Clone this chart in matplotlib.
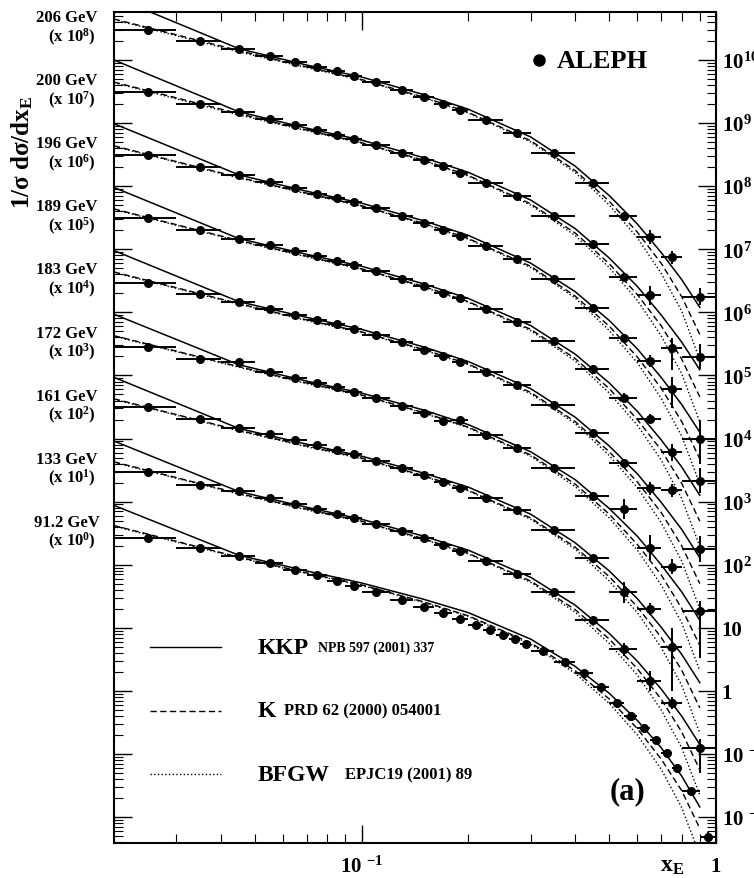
import numpy as np
import matplotlib.pyplot as plt
from matplotlib.ticker import LogLocator, NullFormatter

plt.rcParams['font.family'] = ['Liberation Serif', 'DejaVu Serif']
plt.rcParams['font.weight'] = 'bold'
plt.rcParams['mathtext.fontset'] = 'custom'
plt.rcParams['mathtext.rm'] = 'Liberation Serif:bold'
plt.rcParams['mathtext.it'] = 'Liberation Serif:bold'
plt.rcParams['mathtext.bf'] = 'Liberation Serif:bold'

energies = ['206', '200', '196', '189', '183', '172', '161', '133', '91.2']
powers = [8, 7, 6, 5, 4, 3, 2, 1, 0]

# all y values below are log10(1/sigma dsigma/dx_E), before the 10^n offsets
# LEP2 binning in x_E
lep2_lo = [0.02, 0.03, 0.04, 0.05, 0.06, 0.07, 0.08, 0.09, 0.10, 0.12, 0.14,
           0.16, 0.18, 0.20, 0.25, 0.30, 0.40, 0.50, 0.60, 0.70, 0.80]
lep2_hi = [0.03, 0.04, 0.05, 0.06, 0.07, 0.08, 0.09, 0.10, 0.12, 0.14, 0.16,
           0.18, 0.20, 0.25, 0.30, 0.40, 0.50, 0.60, 0.70, 0.80, 1.00]

logy_206 = [2.48, 2.30, 2.17, 2.07, 1.97, 1.89, 1.82, 1.75, 1.65, 1.53, 1.42, 1.31, 1.21, 1.05, 0.84, 0.52, 0.05, -0.48, -0.80, -1.13, -1.75]
logy_200 = [2.49, 2.31, 2.18, 2.06, 1.97, 1.89, 1.81, 1.75, 1.65, 1.53, 1.42, 1.32, 1.21, 1.05, 0.84, 0.53, 0.08, -0.44, -0.73, -1.56, -1.70]
logy_196 = [2.49, 2.30, 2.18, 2.07, 1.97, 1.88, 1.82, 1.75, 1.65, 1.53, 1.42, 1.31, 1.21, 1.05, 0.85, 0.53, 0.07, -0.41, -0.77, -1.22, -2.00]
logy_189 = [2.49, 2.31, 2.16, 2.07, 1.97, 1.89, 1.82, 1.75, 1.65, 1.53, 1.42, 1.31, 1.22, 1.06, 0.85, 0.54, 0.10, -0.35, -0.69, -1.21, -1.67]
logy_183 = [2.46, 2.29, 2.16, 2.06, 1.96, 1.88, 1.81, 1.74, 1.64, 1.53, 1.41, 1.31, 1.21, 1.05, 0.85, 0.53, 0.08, -0.39, -0.79, -0.82, -1.75]
logy_172 = [2.45, 2.26, 2.22, 2.06, 1.96, 1.88, 1.81, 1.74, 1.64, 1.52, 1.41, 1.28, 1.29, 1.05, 0.85, 0.54, 0.09, -0.12, -0.73, -1.03, -1.73]
logy_161 = [2.50, 2.31, 2.16, 2.07, 1.97, 1.89, 1.82, 1.75, 1.65, 1.53, 1.42, 1.31, 1.21, 1.06, 0.86, 0.55, 0.10, -0.44, -0.70, -1.31, np.nan]
logy_133 = [2.47, 2.27, 2.17, 2.06, 1.96, 1.88, 1.81, 1.74, 1.65, 1.53, 1.42, 1.32, 1.22, 1.06, 0.86, 0.56, 0.12, -0.34, -0.84, -1.19, -1.91]

# vertical error bars (decades down, decades up) of the four highest bins
err_206 = [(0.05, 0.05), (0.11, 0.11), (0.11, 0.11), (0.13, 0.13)]
err_200 = [(0.06, 0.06), (0.15, 0.15), (0.35, 0.15), (0.20, 0.20)]
err_196 = [(0.06, 0.06), (0.10, 0.10), (0.30, 0.20), (0.40, 0.30)]
err_189 = [(0.07, 0.07), (0.08, 0.08), (0.15, 0.12), (0.20, 0.20)]
err_183 = [(0.07, 0.07), (0.10, 0.10), (0.10, 0.10), (0.20, 0.20)]
err_172 = [(0.16, 0.16), (0.20, 0.20), (0.12, 0.12), (0.75, 0.15)]
err_161 = [(0.16, 0.16), (0.10, 0.10), (0.70, 0.30), (0.00, 0.00)]
err_133 = [(0.10, 0.10), (0.16, 0.16), (0.10, 0.10), (0.40, 0.15)]

# Z peak binning
z_lo = [0.02, 0.03, 0.04, 0.05, 0.06, 0.07, 0.08, 0.09, 0.10, 0.12, 0.14, 0.16, 0.18,
        0.20, 0.22, 0.24, 0.26, 0.28, 0.30, 0.35, 0.40, 0.45, 0.50, 0.55, 0.60,
        0.65, 0.70, 0.75, 0.80, 0.90]
z_hi = [0.03, 0.04, 0.05, 0.06, 0.07, 0.08, 0.09, 0.10, 0.12, 0.14, 0.16, 0.18, 0.20,
        0.22, 0.24, 0.26, 0.28, 0.30, 0.35, 0.40, 0.45, 0.50, 0.55, 0.60, 0.65,
        0.70, 0.75, 0.80, 0.90, 1.00]
logy_91 = [2.43, 2.27, 2.14, 2.02, 1.92, 1.83, 1.74, 1.67, 1.56, 1.44, 1.33, 1.23, 1.14,
           1.05, 0.97, 0.89, 0.82, 0.75, 0.63, 0.45, 0.28, 0.06, -0.19, -0.40, -0.59,
           -0.78, -0.99, -1.22, -1.58, -2.31]

# model predictions on a common x grid
xg = [0.02, 0.045, 0.07, 0.1, 0.15, 0.2, 0.3, 0.4, 0.5, 0.6, 0.7, 0.8, 0.9]
kkp_206 = [3.00, 2.18, 1.92, 1.73, 1.45, 1.22, 0.78, 0.32, -0.15, -0.60, -1.05, -1.48, -1.92]
kkp_200 = [3.00, 2.18, 1.92, 1.73, 1.45, 1.22, 0.78, 0.33, -0.14, -0.59, -1.04, -1.47, -1.91]
kkp_196 = [2.99, 2.18, 1.92, 1.73, 1.45, 1.22, 0.78, 0.33, -0.13, -0.58, -1.03, -1.46, -1.90]
kkp_189 = [2.98, 2.17, 1.92, 1.73, 1.45, 1.22, 0.79, 0.34, -0.12, -0.57, -1.02, -1.45, -1.90]
kkp_183 = [2.98, 2.17, 1.92, 1.73, 1.45, 1.22, 0.79, 0.34, -0.12, -0.56, -1.01, -1.44, -1.89]
kkp_172 = [2.97, 2.17, 1.91, 1.72, 1.45, 1.22, 0.79, 0.35, -0.11, -0.55, -1.00, -1.43, -1.88]
kkp_161 = [2.97, 2.16, 1.91, 1.72, 1.45, 1.23, 0.80, 0.35, -0.10, -0.54, -0.99, -1.42, -1.87]
kkp_133 = [2.96, 2.16, 1.91, 1.72, 1.45, 1.23, 0.80, 0.36, -0.09, -0.53, -0.97, -1.40, -1.85]
kkp_91 = [2.94, 2.15, 1.90, 1.71, 1.45, 1.24, 0.82, 0.39, -0.04, -0.47, -0.90, -1.35, -1.84]

k_206 = [2.65, 2.15, 1.89, 1.69, 1.41, 1.17, 0.72, 0.25, -0.24, -0.73, -1.22, -1.75, -2.35]
k_200 = [2.65, 2.15, 1.89, 1.69, 1.41, 1.17, 0.72, 0.26, -0.23, -0.72, -1.21, -1.74, -2.34]
k_196 = [2.64, 2.14, 1.89, 1.69, 1.41, 1.17, 0.73, 0.26, -0.22, -0.71, -1.20, -1.73, -2.32]
k_189 = [2.64, 2.14, 1.89, 1.69, 1.41, 1.17, 0.73, 0.27, -0.21, -0.70, -1.18, -1.71, -2.31]
k_183 = [2.64, 2.14, 1.88, 1.69, 1.41, 1.18, 0.73, 0.27, -0.21, -0.69, -1.17, -1.70, -2.30]
k_172 = [2.63, 2.14, 1.88, 1.69, 1.41, 1.18, 0.74, 0.28, -0.20, -0.68, -1.16, -1.69, -2.28]
k_161 = [2.63, 2.13, 1.88, 1.69, 1.41, 1.18, 0.74, 0.28, -0.19, -0.67, -1.15, -1.67, -2.27]
k_133 = [2.63, 2.13, 1.88, 1.69, 1.41, 1.18, 0.74, 0.29, -0.18, -0.65, -1.13, -1.65, -2.25]
k_91 = [2.62, 2.12, 1.87, 1.68, 1.41, 1.19, 0.76, 0.32, -0.13, -0.60, -1.08, -1.58, -2.18]

bfgw_206 = [2.64, 2.13, 1.88, 1.68, 1.40, 1.16, 0.70, 0.22, -0.30, -0.82, -1.38, -1.98, -2.75]
bfgw_200 = [2.64, 2.13, 1.88, 1.68, 1.40, 1.16, 0.70, 0.22, -0.29, -0.81, -1.37, -1.97, -2.74]
bfgw_196 = [2.63, 2.13, 1.88, 1.68, 1.40, 1.16, 0.71, 0.23, -0.29, -0.80, -1.36, -1.96, -2.72]
bfgw_189 = [2.63, 2.13, 1.88, 1.68, 1.40, 1.16, 0.71, 0.23, -0.28, -0.79, -1.34, -1.95, -2.71]
bfgw_183 = [2.63, 2.13, 1.87, 1.68, 1.40, 1.17, 0.71, 0.24, -0.27, -0.78, -1.33, -1.94, -2.70]
bfgw_172 = [2.62, 2.13, 1.87, 1.68, 1.40, 1.17, 0.72, 0.24, -0.26, -0.77, -1.32, -1.92, -2.68]
bfgw_161 = [2.62, 2.12, 1.87, 1.68, 1.40, 1.17, 0.72, 0.25, -0.26, -0.76, -1.31, -1.91, -2.67]
bfgw_133 = [2.62, 2.12, 1.87, 1.68, 1.40, 1.17, 0.72, 0.25, -0.25, -0.75, -1.30, -1.90, -2.65]
bfgw_91 = [2.61, 2.11, 1.86, 1.67, 1.40, 1.18, 0.74, 0.28, -0.20, -0.70, -1.24, -1.85, -2.60]

data_rows = [logy_206, logy_200, logy_196, logy_189, logy_183, logy_172, logy_161, logy_133, logy_91]
err_rows = [err_206, err_200, err_196, err_189, err_183, err_172, err_161, err_133, None]
kkp_rows = [kkp_206, kkp_200, kkp_196, kkp_189, kkp_183, kkp_172, kkp_161, kkp_133, kkp_91]
k_rows = [k_206, k_200, k_196, k_189, k_183, k_172, k_161, k_133, k_91]
bfgw_rows = [bfgw_206, bfgw_200, bfgw_196, bfgw_189, bfgw_183, bfgw_172, bfgw_161, bfgw_133, bfgw_91]

fig = plt.figure(figsize=(7.54, 8.79), dpi=100)
ax = fig.add_axes([0.1512, 0.0398, 0.7984, 0.9454])
ax.set_xscale('log')
ax.set_yscale('log')
ax.set_xlim(0.02, 1.0)
ax.set_ylim(10**-2.412, 10**10.761)

g = np.array(xg)
for e, p, d, er, c1, c2, c3 in zip(energies, powers, data_rows, err_rows, kkp_rows, k_rows, bfgw_rows):
    s = 10.0**p
    if er is None:
        lo, hi = np.array(z_lo), np.array(z_hi)
        dn = np.zeros(len(lo))
        up = np.zeros(len(lo))
        dn[-1], up[-1] = 0.12, 0.08
    else:
        lo, hi = np.array(lep2_lo), np.array(lep2_hi)
        dn = np.zeros(len(lo))
        up = np.zeros(len(lo))
        dn[-4:] = [a for a, b in er]
        up[-4:] = [b for a, b in er]
    xc = 0.5 * (lo + hi)
    ly = np.array(d, dtype=float) + p
    y = 10.0**ly
    ax.errorbar(xc, y, xerr=[xc - lo, hi - xc], yerr=[y - 10**(ly - dn), 10**(ly + up) - y],
                fmt='o', color='black', ms=5.5, elinewidth=1.4, capsize=0, zorder=3)

    ax.plot(g, 10.0**(np.array(c1) + p), '-', color='black', lw=1.1)
    ax.plot(g, 10.0**(np.array(c2) + p), '--', color='black', lw=1.0, dashes=(4.5, 2.5))
    ax.plot(g, 10.0**(np.array(c3) + p), ':', color='black', lw=1.0)

    # energy and scale factor labels, left of the frame
    ax.text(-0.078, 10**(p + 2.68), e + ' GeV', transform=ax.get_yaxis_transform(),
            ha='center', va='center', fontsize=12, fontweight='bold')
    ax.text(-0.070, 10**(p + 2.38), r'(x 10$^{%d}$)' % p, transform=ax.get_yaxis_transform(),
            ha='center', va='center', fontsize=12, fontweight='bold')

# frame and ticks
ax.tick_params(which='both', direction='in', top=True, right=True, left=True, bottom=True,
               labelleft=False, labelright=True, labelbottom=True)
ax.tick_params(which='major', length=13, width=1.0)
ax.tick_params(which='minor', length=6.5, width=0.8)
for sp in ax.spines.values():
    sp.set_linewidth(1.5)

ax.yaxis.set_minor_locator(LogLocator(base=10, subs=np.arange(2, 10), numticks=100))
ax.yaxis.set_minor_formatter(NullFormatter())
ax.xaxis.set_minor_locator(LogLocator(base=10, subs=np.arange(2, 10), numticks=100))
ax.xaxis.set_minor_formatter(NullFormatter())

ylabels = []
for k in range(-2, 11):
    if k == 0:
        ylabels.append('1')
    elif k == 1:
        ylabels.append('10')
    elif k < 0:
        ylabels.append(r'10 $^{%d}$' % k)
    else:
        ylabels.append(r'10$^{%d}$' % k)
ax.set_yticks([10.0**k for k in range(-2, 11)])
ax.set_yticklabels(ylabels, fontsize=15, fontweight='bold')
ax.tick_params(axis='y', pad=4)
ax.set_xticks([0.1, 1.0])
ax.set_xticklabels([r'10 $^{-1}$', '1'], fontsize=15, fontweight='bold')
ax.tick_params(axis='x', pad=9)

ax.text(0.927, -0.027, r'x$_{\rm E}$', transform=ax.transAxes, ha='center', va='center', fontsize=17)
fig.text(0.030, 0.826, r'1/$\sigma$ d$\sigma$/dx$_{\rm E}$', rotation=90, ha='center', va='center',
         fontsize=18)

# experiment key
ax.plot([0.317], [10**10.0], 'o', color='black', ms=8)
ax.text(0.356, 10**10.0, 'ALEPH', ha='left', va='center', fontsize=19, fontweight='bold')

# model key
leg_y = [10**0.694, 10**-0.315, 10**-1.32]
styles = [dict(ls='-'), dict(ls='--', dashes=(4.5, 2.5)), dict(ls=':')]
names = ['KKP', 'K', 'BFGW']
refs = ['NPB 597 (2001) 337', 'PRD 62 (2000) 054001', 'EPJC19 (2001) 89']
ref_x = [0.0755, 0.0605, 0.0899]
ref_size = [10, 12, 12]
for ly, st, nm, rf, rx, rs in zip(leg_y, styles, names, refs, ref_x, ref_size):
    ax.plot([0.0252, 0.0402], [ly, ly], color='black', lw=1.0, **st)
    ax.text(0.0507, ly, nm, ha='left', va='center', fontsize=17, fontweight='bold')
    ax.text(rx, ly, rf, ha='left', va='center', fontsize=rs, fontweight='bold')

ax.text(0.4996, 10**-1.59, '(a)', ha='left', va='center', fontsize=22, fontweight='bold')

fig.savefig('out.png', dpi=100)
